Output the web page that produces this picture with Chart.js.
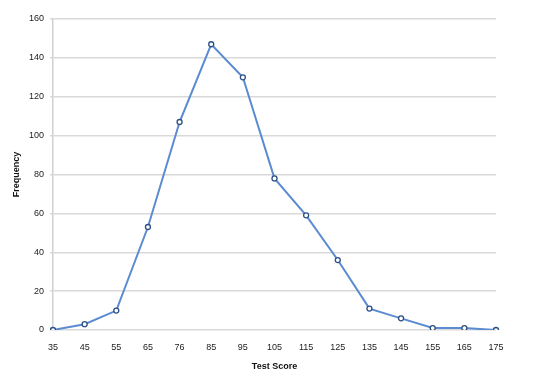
<!DOCTYPE html>
<html>
<head>
<meta charset="utf-8">
<script src="https://cdn.jsdelivr.net/npm/chart.js@4"></script>
<style>
  html, body { margin: 0; padding: 0; background: #fff; }
  #wrap { width: 537px; height: 372px; }
</style>
</head>
<body>
<div id="wrap"><canvas id="chart" width="537" height="372"></canvas></div>
<script>
const scores = ["35","45","55","65","76","85","95","105","115","125","135","145","155","165","175"];
const frequency = [0, 3, 10, 53, 107, 147, 130, 78, 59, 36, 11, 6, 1, 1, 0];
const yTicks = [0, 20, 40, 60, 80, 100, 120, 140, 160];

const FONT = "'Liberation Sans', Arial, sans-serif";

new Chart(document.getElementById("chart"), {
  type: "line",
  data: {
    labels: scores,
    datasets: [{
      data: frequency,
      borderColor: "#5b8bd0",
      borderWidth: 2,
      tension: 0,
      pointRadius: 2.5,
      pointBorderWidth: 1.3,
      pointBorderColor: "#2c4f85",
      pointBackgroundColor: "#ffffff"
    }]
  },
  options: {
    responsive: false,
    animation: false,
    layout: { padding: { top: 19, right: 41, left: 11, bottom: 0 } },
    plugins: { legend: { display: false }, tooltip: { enabled: false } },
    scales: {
      x: {
        offset: false,
        grid: { display: false, drawTicks: false },
        border: { display: false },
        ticks: { color: "#222", font: { family: FONT, size: 9 }, padding: 12, maxRotation: 0, autoSkip: false },
        title: { display: true, text: "Test Score", color: "#111", font: { family: FONT, size: 9, weight: "bold" }, padding: { top: 4, bottom: 0 } },
        afterFit: s => { s.height = 42; }
      },
      y: {
        min: 0, max: 160,
        afterBuildTicks: s => { s.ticks = yTicks.map(v => ({ value: v })); },
        grid: { color: "#d9d9d9", lineWidth: 1.5, tickLength: 3 },
        border: { color: "#d0d0d0", width: 1.5 },
        ticks: { color: "#222", font: { family: FONT, size: 9 }, padding: 6 },
        title: { display: true, text: "Frequency", color: "#111", font: { family: FONT, size: 9, weight: "bold" }, padding: { top: 0, bottom: 8 } },
        afterFit: s => { s.width = 42; }
      }
    }
  }
});
</script>
</body>
</html>
